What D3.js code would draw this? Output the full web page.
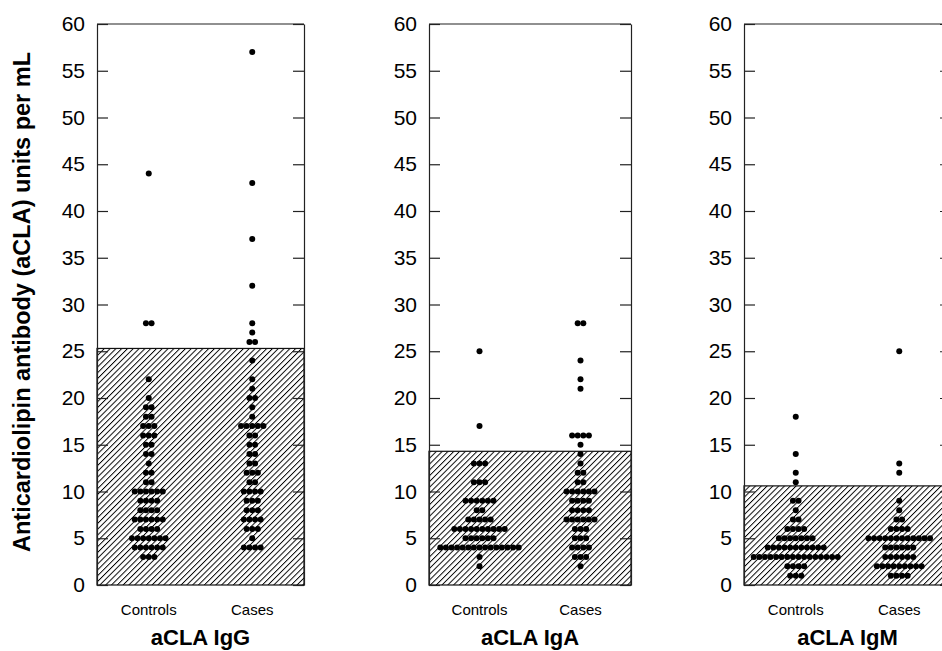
<!DOCTYPE html>
<html>
<head>
<meta charset="utf-8">
<script src="https://cdn.jsdelivr.net/npm/d3@7"></script>
<style>
  body { margin: 0; background: #fff; }
  svg { display: block; font-family: "Liberation Sans", Arial, sans-serif; }
</style>
</head>
<body>
<svg id="svg" width="942" height="651"></svg>
<script>
// categories and panel labels
var categories = ["Controls", "Cases"];
var panelTitles = ["aCLA IgG", "aCLA IgA", "aCLA IgM"];
var yTicks = [0, 5, 10, 15, 20, 25, 30, 35, 40, 45, 50, 55, 60];
// upper limit of the normal range for each antibody (hatched area)
var cutoffs = [25.3, 14.3, 10.6];

// [value, number of subjects]
var iggControls = [[44,1],[28,2],[22,1],[20,1],[19,2],[18,2],[17,3],[16,3],[15,2],[14,2],[13,1],[12,2],[11,2],[10,6],[9,4],[8,4],[7,6],[6,4],[5,7],[4,6],[3,3]];
var iggCases    = [[57,1],[43,1],[37,1],[32,1],[28,1],[27,1],[26,2],[24,1],[22,1],[21,1],[20,2],[19,1],[18,1],[17,5],[16,2],[15,2],[14,2],[13,2],[12,3],[11,2],[10,4],[9,3],[8,3],[7,4],[6,3],[5,1],[4,4]];
var igaControls = [[25,1],[17,1],[13,3],[11,3],[9,6],[8,2],[7,5],[6,10],[5,6],[4,15],[3,1],[2,1]];
var igaCases    = [[28,2],[24,1],[22,1],[21,1],[16,4],[15,1],[14,1],[13,1],[12,2],[11,2],[10,6],[9,4],[8,4],[7,6],[6,3],[5,3],[4,4],[3,3],[2,1]];
var igmControls = [[18,1],[14,1],[12,1],[11,1],[9,2],[8,1],[7,2],[6,4],[5,7],[4,11],[3,16],[2,4],[1,3]];
var igmCases    = [[25,1],[13,1],[12,1],[9,1],[8,1],[7,2],[6,4],[5,12],[4,6],[3,6],[2,9],[1,4]];

var groups = [[iggControls, iggCases], [igaControls, igaCases], [igmControls, igmCases]];

var svg = d3.select("#svg");

var panelLeft  = [97, 429, 744];
var panelWidth = [207, 202, 207];
var plotTop = 24, plotBottom = 585;
var tickLen = 11;
var dotR = 3, dotStep = 5.6;

var y = d3.scaleLinear().domain([0, 60]).range([plotBottom, plotTop]);

// hatch pattern  "/"
var defs = svg.append("defs");
defs.append("pattern")
    .attr("id", "hatch")
    .attr("patternUnits", "userSpaceOnUse")
    .attr("width", 4.1)
    .attr("height", 4.1)
    .attr("patternTransform", "rotate(45)")
  .append("line")
    .attr("x1", 0).attr("y1", 0)
    .attr("x2", 0).attr("y2", 4.1)
    .style("stroke", "#000")
    .style("stroke-width", 1.9);

panelTitles.forEach(function(title, p) {
    var left = panelLeft[p], right = left + panelWidth[p];
    var g = svg.append("g");

    var x = d3.scalePoint().domain(categories).range([left, right]).padding(0.5);

    // hatched normal range
    g.append("rect")
        .attr("x", left)
        .attr("y", y(cutoffs[p]))
        .attr("width", right - left)
        .attr("height", y(0) - y(cutoffs[p]))
        .style("fill", "url(#hatch)")
        .style("stroke", "#111")
        .style("stroke-width", 1.2);

    // top border
    g.append("line")
        .attr("x1", left).attr("x2", right)
        .attr("y1", plotTop).attr("y2", plotTop)
        .style("stroke", "#222")
        .style("stroke-width", 1.2);

    // left axis with inward ticks
    var axL = g.append("g")
        .attr("transform", "translate(" + left + ",0)")
        .call(d3.axisLeft(y).tickValues(yTicks).tickSizeInner(-tickLen).tickSizeOuter(0).tickPadding(12));
    axL.selectAll("text")
        .style("font-size", "21px")
        .style("fill", "#000");

    // right border with inward ticks
    g.append("g")
        .attr("transform", "translate(" + right + ",0)")
        .call(d3.axisRight(y).tickValues(yTicks).tickSizeInner(-tickLen).tickSizeOuter(0).tickFormat(""));

    g.selectAll(".domain").style("stroke", "#222").style("stroke-width", 1.2);
    g.selectAll(".tick line").style("stroke", "#222").style("stroke-width", 1.2);

    // dot rows
    categories.forEach(function(cat, c) {
        var pts = [];
        groups[p][c].forEach(function(r) {
            for (var i = 0; i < r[1]; i++) pts.push({v: r[0], i: i, n: r[1]});
        });
        g.selectAll(".dot" + c)
            .data(pts)
            .enter().append("circle")
            .attr("class", "dot" + c)
            .attr("cx", function(d) { return x(cat) + (d.i - (d.n - 1) / 2) * dotStep; })
            .attr("cy", function(d) { return y(d.v); })
            .attr("r", dotR)
            .style("fill", "#000");

        g.append("text")
            .attr("x", x(cat))
            .attr("y", 615)
            .attr("text-anchor", "middle")
            .style("font-size", "15px")
            .text(cat);
    });

    g.append("text")
        .attr("x", (left + right) / 2)
        .attr("y", 645)
        .attr("text-anchor", "middle")
        .style("font-size", "22px")
        .style("font-weight", "bold")
        .text(title);
});

// y axis title
svg.append("text")
    .attr("transform", "translate(30,302) rotate(-90)")
    .attr("text-anchor", "middle")
    .style("font-size", "23.5px")
    .style("font-weight", "bold")
    .text("Anticardiolipin antibody (aCLA) units per mL");
</script>
</body>
</html>
